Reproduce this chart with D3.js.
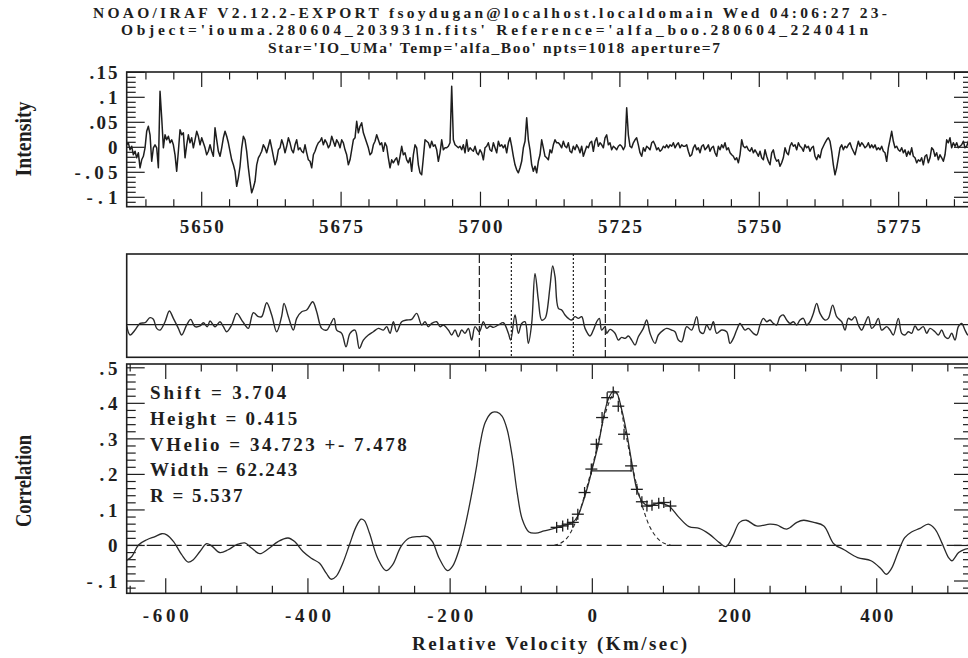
<!DOCTYPE html>
<html><head><meta charset="utf-8">
<script src="https://cdn.jsdelivr.net/npm/d3@7"></script>
<style>body{margin:0;background:#fff}svg{display:block}</style>
</head><body><svg id="c" width="968" height="658"></svg>
<script>
// ---------------- DATA ----------------
const titleLines = [
  "NOAO/IRAF V2.12.2-EXPORT fsoydugan@localhost.localdomain Wed 04:06:27 23-",
  "Object='iouma.280604_203931n.fits' Reference='alfa_boo.280604_224041n",
  "Star='IO_UMa' Temp='alfa_Boo' npts=1018 aperture=7"
];
// spectrum (object normalised intensity), linear wavelength grid
const specStart = 5636.55, specStep = 0.2989;
const specFlux = [
.005,.009,-.005,.002,-.015,-.008,-.021,-.011,-.041,-.025,
-.018,-.001,.032,.042,.025,-.028,-.001,.005,-.001,-.041,
.112,.059,-.001,.025,.015,.022,.009,.015,.005,-.015,
-.048,-.008,.035,.025,.029,-.021,.005,.025,.009,.019,
-.001,.015,.032,.022,.005,.019,.009,-.001,-.015,-.008,
.005,-.008,-.018,.039,.015,-.008,-.018,-.001,.019,.032,
.022,.009,-.008,-.025,-.035,-.048,-.078,-.061,-.038,-.001,
.022,.015,-.008,-.041,-.068,-.091,-.081,-.068,-.035,-.021,
-.015,-.008,.005,-.001,-.011,.002,.015,-.001,-.018,-.035,
-.025,-.005,-.001,.015,.005,-.011,.002,.019,.009,-.005,
-.011,.005,.015,-.005,-.001,-.008,-.011,.005,-.011,-.025,
-.028,-.041,-.015,-.008,.002,.009,.012,.019,.005,.015,
.009,-.001,.005,.022,.012,.002,.015,.009,-.001,.015,
.009,-.005,-.015,-.035,-.025,-.005,.015,.019,.052,.029,
.042,.049,.029,.019,.009,-.001,-.015,-.011,.005,.012,
.025,.015,.005,.009,-.008,.009,.002,-.021,-.041,-.025,
-.031,-.025,-.021,-.035,-.018,.002,-.015,-.011,-.025,-.031,
-.021,
-.048,-.015,.005,-.001,-.035,-.051,-.055,-.021,.015,.012,
.009,-.001,.012,.002,.005,-.005,-.028,-.011,.015,-.005,
-.001,-.001,.002,.009,.122,.015,.005,.002,-.001,.002,
-.005,.005,-.011,.015,-.008,-.001,-.005,-.008,.002,-.011,
-.015,-.005,-.011,-.025,-.001,.002,.009,-.005,-.008,.009,
-.001,-.011,.012,.002,.005,-.001,.005,-.011,.009,.019,
.002,-.018,-.035,-.045,-.051,-.041,-.028,-.001,.012,.059,
.015,-.005,-.035,-.048,-.038,-.051,-.028,-.015,.015,-.001,
-.018,-.021,-.025,-.005,-.011,.005,.015,.009,.009,.005,
-.001,.012,.002,-.001,.009,-.008,-.011,.002,-.005,.005,
-.001,-.011,.002,-.018,-.008,.002,-.001,.009,.012,-.008,
.012,.019,.002,.009,.005,-.001,.019,.025,.005,.009,
-.005,.002,-.001,-.005,.002,.005,.002,-.005,.002,.079,
.025,.002,-.001,.009,.015,.019,.005,-.011,-.018,-.001,
-.008,.002,-.001,-.005,.009,.012,.005,-.005,-.001,-.008,
-.005,.002,-.001,.005,-.001,.005,.002,.009,-.001,.005,
.009,-.001,
.005,.002,.002,.005,-.008,-.018,-.015,-.001,.005,-.005,
-.001,-.011,.002,.005,-.005,-.001,.005,-.008,-.001,.002,
-.011,-.018,.002,-.005,.005,-.001,.009,-.005,-.001,-.011,
-.015,-.018,-.025,-.021,-.031,-.015,.015,.002,-.001,.002,
-.005,-.008,-.001,-.011,-.005,-.011,-.018,-.008,-.021,-.025,
-.005,-.018,-.028,-.035,-.011,-.005,-.021,-.028,-.025,-.038,
-.031,-.021,-.001,-.011,-.015,.002,.009,.002,.005,-.005,
.009,.002,-.001,-.008,.005,-.001,.002,-.008,-.001,.002,
-.018,-.025,-.015,-.021,-.005,.002,.009,.015,.019,.012,
-.008,-.035,-.055,-.041,-.021,-.001,.005,-.005,.002,-.001,
.005,.009,-.001,-.008,-.015,-.001,.012,.002,.009,.005,
-.001,.002,.009,-.001,.005,-.001,.005,-.005,-.001,-.005,
.002,-.008,-.011,-.028,-.001,.015,.032,.012,-.001,.002,
-.005,-.008,-.001,-.011,-.005,-.018,-.008,-.015,-.001,-.018,
-.021,-.031,-.025,-.028,-.021,-.035,-.018,-.015,-.031,-.021,
-.001,-.005,-.018,-.011,-.025,-.015,-.021,-.028,-.015,.015,
.009,.019,-.001,.009,.002,.009,-.001,.002,.005,.012,
-.001,.002,.012,.005,.009
];
// full cross-correlation function (lag in CCF pixels)
const midLag = [-632,-627,-619.5,-612,-604.5,-597,-592,-587,-582,-574.5,-568,-562,-554.5,-549.5,-542,-536,-529.5,-522,-517,-511,-507,-499.5,-492,-487,-482,-474.5,-467,-459.5,-454.5,-449.5,-442,-434.5,-429.5,-422,-414.5,-407,-399.5,-396,-389.5,-382,-377,-369.5,-362,-353,-347,-339.5,-332,-327,-321,-317,-309.5,-303,-297,-289.5,-283,-277,-269.5,-262,-254.5,-247,-242,-237,-232,-227,-219.5,-212,-204.5,-197,-189.5,-184.5,-179.5,-174.5,-167,-162,-157,-149.5,-144.5,-139.5,-134.5,-129.5,-124.5,-119.5,-114.5,-109.5,-103,-97,-92,-87,-82,-74.5,-67,-59.5,-56,-49.5,-44.5,-39.5,-34.5,-29.5,-24.5,-19.5,-14.5,-9.5,-4.5,-2,3,7,10.5,15.5,20.5,25.5,30.5,35.5,40.5,45.5,50.5,55.5,63,68,73,77,80.5,85.5,88,93,100.5,105.5,110.5,115.5,120.5,125.5,130.5,135.5,143,148,153,160.5,165.5,173,178,185.5,190.5,195.5,200.5,208,215.5,223,228,233,238,243,248,253,260.5,268,273,278,283,288,295.5,300.5,308,313,318,323,328,333,338,343,348,353,358,363,368,373,378,383,388,393,398,403,408,415.5,420.5,427,433,440.5,445.5,450.5,455.5,460.5,465.5,470.5,475.5,480.5,485.5,490.5,495.5,500.5,508,513,518,525.5,530.5,535.5,540.5,545.5,550.5,555.5,563,568,573,580.5,585.5,590.5,595.5,600.5,605.5,610.5,615.5,620.5,625.5,630,636];
const midCorr = [-0.009,-0.073,-0.038,0.009,0.014,0.050,0.038,-0.026,-0.038,0.021,0.097,0.045,-0.026,-0.073,-0.002,0.038,-0.014,-0.009,0.014,-0.014,0.026,-0.014,0.021,-0.014,-0.050,-0.002,0.080,0.033,-0.002,-0.026,0.085,0.057,0.057,0.156,0.069,-0.050,0.061,0.151,0.057,-0.038,0.045,0.092,0.104,0.163,0.092,-0.026,-0.038,-0.002,0.045,-0.038,-0.061,-0.156,-0.061,-0.038,-0.168,-0.109,-0.073,-0.050,-0.026,-0.038,-0.014,-0.061,0.021,-0.050,0.021,0.033,0.038,0.080,-0.002,0.021,-0.014,0.009,0.021,-0.014,-0.002,-0.038,-0.073,-0.038,-0.085,-0.038,-0.061,-0.026,-0.109,-0.014,-0.050,0.021,-0.026,-0.009,-0.019,-0.002,0.014,-0.061,-0.109,0.069,-0.061,0.009,0.021,-0.132,0.009,0.364,0.175,0.033,0.045,0.080,0.270,0.416,0.340,0.116,0.104,0.069,0.045,0.033,0.057,0.045,0.057,-0.026,-0.080,-0.038,0.021,0.045,-0.038,-0.014,-0.061,-0.033,-0.061,-0.109,-0.090,-0.097,-0.080,-0.109,-0.144,-0.085,-0.026,0.033,-0.061,-0.132,-0.073,-0.038,-0.026,-0.038,-0.050,-0.109,-0.121,-0.014,-0.038,0.057,-0.050,-0.061,-0.002,-0.038,0.021,-0.061,-0.038,-0.050,-0.132,-0.097,-0.038,0.009,-0.038,-0.026,-0.061,-0.073,-0.002,0.045,0.021,0.033,0.009,-0.002,0.057,0.069,0.033,0.009,0.021,-0.002,0.033,0.045,-0.002,0.021,0.080,0.151,0.080,0.033,0.045,0.139,0.057,0.021,-0.038,0.045,0.033,0.057,-0.002,-0.038,0.009,0.057,-0.026,-0.002,0.045,-0.038,-0.014,-0.038,-0.073,0.045,-0.061,-0.073,-0.050,-0.061,-0.009,-0.038,-0.014,-0.061,-0.026,-0.050,-0.073,-0.038,-0.085,-0.097,-0.061,-0.109,-0.014,0.009,-0.038,-0.073,-0.050];
const midDashedLag = [-103, 86];
const midDottedLag = [-55, 38];
// zoomed correlation (relative velocity km/s)
const ccfVel = [-655,-647.7,-638,-626.6,-615,-605.6,-598.6,-589,-577.6,-568.2,-561.2,-551.9,-542.5,-535.5,-523.8,-512.1,-500.5,-488.8,-479.4,-467.8,-456,-442,-428,-418.7,-407,-395.3,-383.6,-374.3,-367.3,-360.3,-351,-341.6,-332.2,-325.2,-320.6,-313.5,-301.9,-290.2,-280.8,-269.2,-257.5,-243.5,-231.8,-224.8,-215.4,-203.7,-196.7,-187.4,-178,-168.7,-162.6,-157.9,-150.7,-141.3,-134.1,-127,-119.9,-112.8,-105.7,-98.6,-89.1,-79.6,-67.8,-53.6,-39.3,-27.5,-20.4,-13.3,-6.2,0.9,9.0,15.2,22.3,29.4,34.1,41.2,48.3,55.5,62.6,69.7,79.2,93.4,107.6,121.8,136,150.3,164.5,178.7,188.2,197.7,207.1,216.6,230.8,249.8,259.3,273.5,287.7,297.2,311.4,325.6,339.9,354.1,373.1,392,406.2,413.3,420.4,429.9,439.4,448.9,460.7,472.6,482,491.5,501,505.7,515.2,524.7,534];
const ccfCorr = [-0.042,-0.031,0.002,0.016,0.025,0.033,0.030,0.011,-0.026,-0.047,-0.040,-0.017,0.005,-0.001,-0.020,-0.012,0.002,0.007,-0.007,-0.023,-0.010,0.011,0.021,0.011,-0.017,-0.036,-0.050,-0.078,-0.095,-0.087,-0.050,0.002,0.053,0.074,0.070,0.035,-0.036,-0.071,-0.054,-0.003,0.021,0.025,0.025,0.011,-0.036,-0.071,-0.059,-0.012,0.063,0.156,0.225,0.285,0.346,0.374,0.375,0.364,0.327,0.252,0.149,0.074,0.038,0.035,0.041,0.048,0.057,0.065,0.083,0.121,0.168,0.224,0.289,0.355,0.411,0.434,0.430,0.383,0.317,0.233,0.158,0.125,0.111,0.119,0.111,0.079,0.053,0.048,0.032,0.008,-0.003,0.027,0.065,0.071,0.055,0.060,0.058,0.046,0.065,0.071,0.065,0.055,0.004,-0.012,-0.034,-0.043,-0.066,-0.081,-0.066,-0.020,0.022,0.038,0.048,0.060,0.046,0.008,-0.034,-0.043,-0.020,-0.010,-0.008];
// points used in the fit
const fitVel  = [-50.2,-41.7,-34.6,-27.5,-20.4,-10.9,-1.4,5.7,13.7,20.9,29.4,36.5,44.6,54.5,62.6,69.7,76.8,83.9,93.4,100.5,109.9];
const fitCorr = [0.051,0.055,0.060,0.065,0.088,0.149,0.215,0.285,0.360,0.416,0.432,0.392,0.313,0.224,0.158,0.123,0.111,0.113,0.119,0.121,0.111];
// gaussian fit curve
const gaussVel  = [-54,-45,-36,-27,-18,-9,0,9,18,27,32,36,45,54,63,72,81,90,99,110];
const gaussCorr = [0.000,0.006,0.020,0.050,0.095,0.155,0.222,0.298,0.370,0.418,0.430,0.420,0.335,0.245,0.165,0.100,0.052,0.024,0.008,0.001];
const halfMaxVel = [-1.4, 55.5], halfMaxCorr = 0.21;
const statsLines = ["Shift = 3.704","Height = 0.415","VHelio = 34.723 +- 7.478","Width = 62.243","R = 5.537"];
// ticks
const topXTicks = [5650,5675,5700,5725,5750,5775];
const topYTicks = [0.15,0.1,0.05,0,-0.05,-0.1];
const topYLabels = [".15",".1",".05","0","-.05","-.1"];
const botXTicks = [-600,-400,-200,0,200,400];
const botXLabels = ["-600","-400","-200","0","200","400"];
const botYTicks = [0.5,0.4,0.3,0.2,0.1,0,-0.1];
const botYLabels = [".5",".4",".3",".2",".1","0","-.1"];

// ---------------- LAYOUT ----------------
const svg = d3.select("#c");
const L = 126.7, R = 972;
const T1 = 72, B1 = 206.7, T2 = 254, B2 = 357.3, T3 = 364, B3 = 593.3;
const INK = "#1e1e1e";
const FONT = "'Liberation Serif', 'Times New Roman', serif";

const xTop = d3.scaleLinear().domain([5636.55, 5788.15]).range([L, R]);
const yTop = d3.scaleLinear().domain([-0.1188, 0.1506]).range([B1, T1]);
const xMid = d3.scaleLinear().domain([-632, 636]).range([L, R]);
const yMid = d3.scaleLinear().domain([-0.231, 0.501]).range([B2, T2]);
const xBot = d3.scaleLinear().domain([-654.9, 534]).range([L, R]);
const yBot = d3.scaleLinear().domain([-0.1346, 0.5107]).range([B3, T3]);

const defs = svg.append("defs");
[[1,T1,B1],[2,T2,B2],[3,T3,B3]].forEach(([i,t,b]) => {
  defs.append("clipPath").attr("id","clip"+i).append("rect")
    .attr("x",L).attr("y",t).attr("width",R-L).attr("height",b-t);
});

// title
const titleX = [490, 494.5, 494], titleY = [17.5, 35, 52.5], titleW = [794, 747, 452];
svg.selectAll("text.title").data(titleLines).join("text")
  .attr("class","title")
  .attr("x",(d,i)=>titleX[i]).attr("y",(d,i)=>titleY[i])
  .attr("text-anchor","middle")
  .attr("textLength",(d,i)=>titleW[i]).attr("lengthAdjust","spacing")
  .style("font-family",FONT).style("font-weight","bold").style("font-size","15.5px")
  .attr("fill",INK).text(d=>d);

function frameTicks(xs, ys, t, b, xMaj, xMin, yMaj, yMin) {
  const g = svg.append("g").attr("stroke",INK).attr("stroke-width",1.2);
  const segs = [];
  xMaj.forEach(v=>{const x=xs(v); segs.push([x,t,x,t+15],[x,b,x,b-15]);});
  xMin.forEach(v=>{const x=xs(v); segs.push([x,t,x,t+7.5],[x,b,x,b-7.5]);});
  yMaj.forEach(v=>{const y=ys(v); segs.push([L,y,L+18,y],[R,y,R-18,y]);});
  yMin.forEach(v=>{const y=ys(v); segs.push([L,y,L+9,y],[R,y,R-9,y]);});
  g.selectAll("line").data(segs).join("line")
    .attr("x1",d=>d[0]).attr("y1",d=>d[1]).attr("x2",d=>d[2]).attr("y2",d=>d[3]);
}
function frameRect(t,b){
  svg.append("rect").attr("x",L).attr("y",t).attr("width",R-L).attr("height",b-t)
    .attr("fill","none").attr("stroke",INK).attr("stroke-width",1.6);
}

// ---------- top panel ----------
const topMinorX = d3.range(5640, 5789, 5).filter(v=>!topXTicks.includes(v));
const topMinorY = d3.range(-11, 16, 1).map(v=>v/100).filter(v=>!topYTicks.some(t=>Math.abs(t-v)<1e-9));
frameRect(T1,B1);
frameTicks(xTop, yTop, T1, B1, topXTicks, topMinorX, topYTicks, topMinorY);
svg.append("path").datum(specFlux).attr("clip-path","url(#clip1)")
  .attr("fill","none").attr("stroke",INK).attr("stroke-width",1.5).attr("stroke-linejoin","round")
  .attr("d", d3.line().x((d,i)=>xTop(specStart+i*specStep)).y(d=>yTop(d)));
svg.selectAll("text.tx").data(topXTicks).join("text").attr("class","tx")
  .attr("x",d=>xTop(d)).attr("y",232.5).attr("text-anchor","middle")
  .attr("textLength",44).attr("lengthAdjust","spacing")
  .style("font-family",FONT).style("font-weight","bold").style("font-size","19px")
  .attr("fill",INK).text(d=>d);
const topYW = [28,18,28,10,43,31];
svg.selectAll("text.ty").data(topYTicks).join("text").attr("class","ty")
  .attr("x",117.5).attr("y",d=>yTop(d)+7).attr("text-anchor","end")
  .attr("textLength",(d,i)=>topYW[i]).attr("lengthAdjust","spacing")
  .style("font-family",FONT).style("font-weight","bold").style("font-size","19px")
  .attr("fill",INK).text((d,i)=>topYLabels[i]);
svg.append("text").attr("transform","translate(31,139) rotate(-90)")
  .attr("text-anchor","middle").attr("textLength",75).attr("lengthAdjust","spacingAndGlyphs")
  .style("font-family",FONT).style("font-weight","bold").style("font-size","24px")
  .attr("fill",INK).text("Intensity");

// ---------- middle panel ----------
frameRect(T2,B2);
svg.append("line").attr("x1",L).attr("x2",R).attr("y1",yMid(0)).attr("y2",yMid(0))
  .attr("stroke",INK).attr("stroke-width",1.3);
svg.selectAll("line.md").data(midDashedLag).join("line").attr("class","md")
  .attr("x1",d=>xMid(d)).attr("x2",d=>xMid(d)).attr("y1",T2).attr("y2",B2)
  .attr("stroke",INK).attr("stroke-width",1.2).attr("stroke-dasharray","9,3");
svg.selectAll("line.mt").data(midDottedLag).join("line").attr("class","mt")
  .attr("x1",d=>xMid(d)).attr("x2",d=>xMid(d)).attr("y1",T2).attr("y2",B2)
  .attr("stroke",INK).attr("stroke-width",1.2).attr("stroke-dasharray","2,2");
svg.append("path").datum(midLag.map((l,i)=>[l,midCorr[i]])).attr("clip-path","url(#clip2)")
  .attr("fill","none").attr("stroke","#2a2a2a").attr("stroke-width",1.4)
  .attr("d", d3.line().x(d=>xMid(d[0])).y(d=>yMid(d[1])).curve(d3.curveCatmullRom.alpha(0.5)));

// ---------- bottom panel ----------
const botMinorX = d3.range(-650, 534, 50).filter(v=>!botXTicks.includes(v));
const botMinorY = d3.range(-12, 51, 2).map(v=>v/100).filter(v=>!botYTicks.some(t=>Math.abs(t-v)<1e-9));
frameRect(T3,B3);
frameTicks(xBot, yBot, T3, B3, botXTicks, botMinorX, botYTicks, botMinorY);
svg.append("line").attr("x1",L).attr("x2",R).attr("y1",yBot(0)).attr("y2",yBot(0))
  .attr("stroke",INK).attr("stroke-width",1.2).attr("stroke-dasharray","15,5");
svg.append("path").datum(ccfVel.map((v,i)=>[v,ccfCorr[i]])).attr("clip-path","url(#clip3)")
  .attr("fill","none").attr("stroke","#2a2a2a").attr("stroke-width",1.3)
  .attr("d", d3.line().x(d=>xBot(d[0])).y(d=>yBot(d[1])).curve(d3.curveCatmullRom.alpha(0.5)));
svg.append("path").datum(gaussVel.map((v,i)=>[v,gaussCorr[i]])).attr("clip-path","url(#clip3)")
  .attr("fill","none").attr("stroke","#2a2a2a").attr("stroke-width",1.1).attr("stroke-dasharray","4,3")
  .attr("d", d3.line().x(d=>xBot(d[0])).y(d=>yBot(d[1])).curve(d3.curveCatmullRom.alpha(0.5)));
svg.append("line").attr("x1",xBot(halfMaxVel[0])).attr("x2",xBot(halfMaxVel[1]))
  .attr("y1",yBot(halfMaxCorr)).attr("y2",yBot(halfMaxCorr)).attr("stroke",INK).attr("stroke-width",1.2);
const crosses = svg.append("g").attr("stroke",INK).attr("stroke-width",1.3);
fitVel.forEach((v,i)=>{
  const x = xBot(v), y = yBot(fitCorr[i]);
  crosses.append("line").attr("x1",x-6).attr("x2",x+6).attr("y1",y).attr("y2",y);
  crosses.append("line").attr("x1",x).attr("x2",x).attr("y1",y-5.5).attr("y2",y+5.5);
});
const statY = [399.3, 425, 450.7, 476.2, 501.7];
svg.selectAll("text.st").data(statsLines).join("text").attr("class","st")
  .attr("x",150).attr("y",(d,i)=>statY[i])
  .attr("textLength",d=>d.length*10.95-6).attr("lengthAdjust","spacing")
  .style("font-family",FONT).style("font-weight","bold").style("font-size","19px")
  .attr("fill",INK).text(d=>d);
const botXW = [46,46,46,11,33,33];
svg.selectAll("text.bx").data(botXTicks).join("text").attr("class","bx")
  .attr("x",d=>xBot(d)).attr("y",621.5).attr("text-anchor","middle")
  .attr("textLength",(d,i)=>botXW[i]).attr("lengthAdjust","spacing")
  .style("font-family",FONT).style("font-weight","bold").style("font-size","19px")
  .attr("fill",INK).text((d,i)=>botXLabels[i]);
const botYW = [18,18,18,18,18,10,31];
svg.selectAll("text.by").data(botYTicks).join("text").attr("class","by")
  .attr("x",117.5).attr("y",d=>yBot(d)+7).attr("text-anchor","end")
  .attr("textLength",(d,i)=>botYW[i]).attr("lengthAdjust","spacing")
  .style("font-family",FONT).style("font-weight","bold").style("font-size","19px")
  .attr("fill",INK).text((d,i)=>botYLabels[i]);
svg.append("text").attr("transform","translate(31,481) rotate(-90)")
  .attr("text-anchor","middle").attr("textLength",92).attr("lengthAdjust","spacingAndGlyphs")
  .style("font-family",FONT).style("font-weight","bold").style("font-size","24px")
  .attr("fill",INK).text("Correlation");
svg.append("text").attr("x",549.5).attr("y",650).attr("text-anchor","middle")
  .attr("textLength",275).attr("lengthAdjust","spacing")
  .style("font-family",FONT).style("font-weight","bold").style("font-size","19px")
  .attr("fill",INK).text("Relative Velocity (Km/sec)");
</script></body></html>
